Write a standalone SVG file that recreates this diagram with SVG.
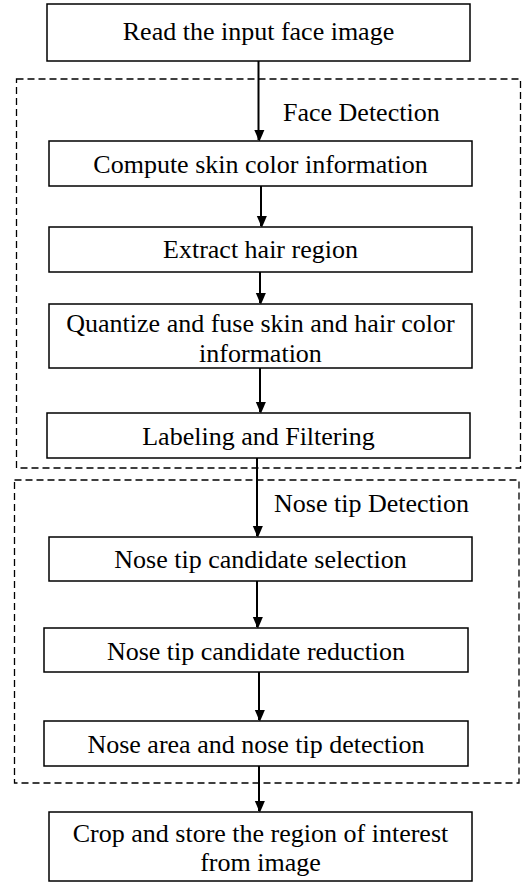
<svg xmlns="http://www.w3.org/2000/svg" width="529" height="883" viewBox="0 0 529 883">
<style>
.box{fill:#fff;stroke:#000;stroke-width:1.5}
.grp{fill:none;stroke:#000;stroke-width:1.3;stroke-dasharray:7 4}
.t{font-family:"Liberation Serif","Times New Roman",serif;font-size:26px;fill:#000;text-anchor:middle}
.gl{font-family:"Liberation Serif","Times New Roman",serif;font-size:26px;fill:#000}
.ln{stroke:#000;stroke-width:2;fill:none}
</style>
<defs>
<marker id="ah" markerWidth="12" markerHeight="14" refX="12" refY="7" orient="auto" markerUnits="userSpaceOnUse" viewBox="0 0 14 12">
<path d="M0,0 L14,6 L0,12 Z" fill="#000"/>
</marker>
</defs>
<rect width="529" height="883" fill="#fff"/>
<g id="groups">
<rect id="face-detection-group" class="grp" x="16.5" y="79" width="504" height="389"/>
<text class="gl" x="283" y="121">Face Detection</text>
<rect id="nose-tip-group" class="grp" x="14.5" y="480" width="504.5" height="303"/>
<text class="gl" x="274" y="512">Nose tip Detection</text>
</g>
<g id="connectors">
<line class="ln" x1="258.5" y1="61" x2="258.5" y2="140" marker-end="url(#ah)"/>
<line class="ln" x1="261" y1="186" x2="261" y2="226" marker-end="url(#ah)"/>
<line class="ln" x1="260" y1="272" x2="260" y2="303" marker-end="url(#ah)"/>
<line class="ln" x1="260" y1="368" x2="260" y2="412" marker-end="url(#ah)"/>
<line class="ln" x1="257" y1="458" x2="257" y2="536" marker-end="url(#ah)"/>
<line class="ln" x1="257" y1="581" x2="257" y2="627" marker-end="url(#ah)"/>
<line class="ln" x1="259" y1="672" x2="259" y2="720" marker-end="url(#ah)"/>
<line class="ln" x1="259" y1="766" x2="259" y2="811" marker-end="url(#ah)"/>
</g>
<g id="n1"><rect class="box" x="47" y="4" width="423" height="57"/><text class="t" x="258.5" y="40">Read the input face image</text></g>
<g id="n2"><rect class="box" x="49" y="141" width="423" height="45"/><text class="t" x="260.5" y="173">Compute skin color information</text></g>
<g id="n3"><rect class="box" x="49" y="227" width="423" height="45"/><text class="t" x="260.5" y="258">Extract hair region</text></g>
<g id="n4"><rect class="box" x="49" y="304" width="423" height="64"/><text class="t" x="260.5" y="332">Quantize and fuse skin and hair color</text><text class="t" x="260.5" y="362">information</text></g>
<g id="n5"><rect class="box" x="47" y="413" width="423" height="45"/><text class="t" x="258.5" y="445">Labeling and Filtering</text></g>
<g id="n6"><rect class="box" x="49" y="537" width="423" height="44"/><text class="t" x="260.5" y="568">Nose tip candidate selection</text></g>
<g id="n7"><rect class="box" x="44" y="628" width="424" height="44"/><text class="t" x="256" y="660">Nose tip candidate reduction</text></g>
<g id="n8"><rect class="box" x="44" y="721" width="424" height="45"/><text class="t" x="256" y="753">Nose area and nose tip detection</text></g>
<g id="n9"><rect class="box" x="49" y="812" width="423" height="69"/><text class="t" x="260.5" y="842">Crop and store the region of interest</text><text class="t" x="260.5" y="871">from image</text></g>
</svg>
